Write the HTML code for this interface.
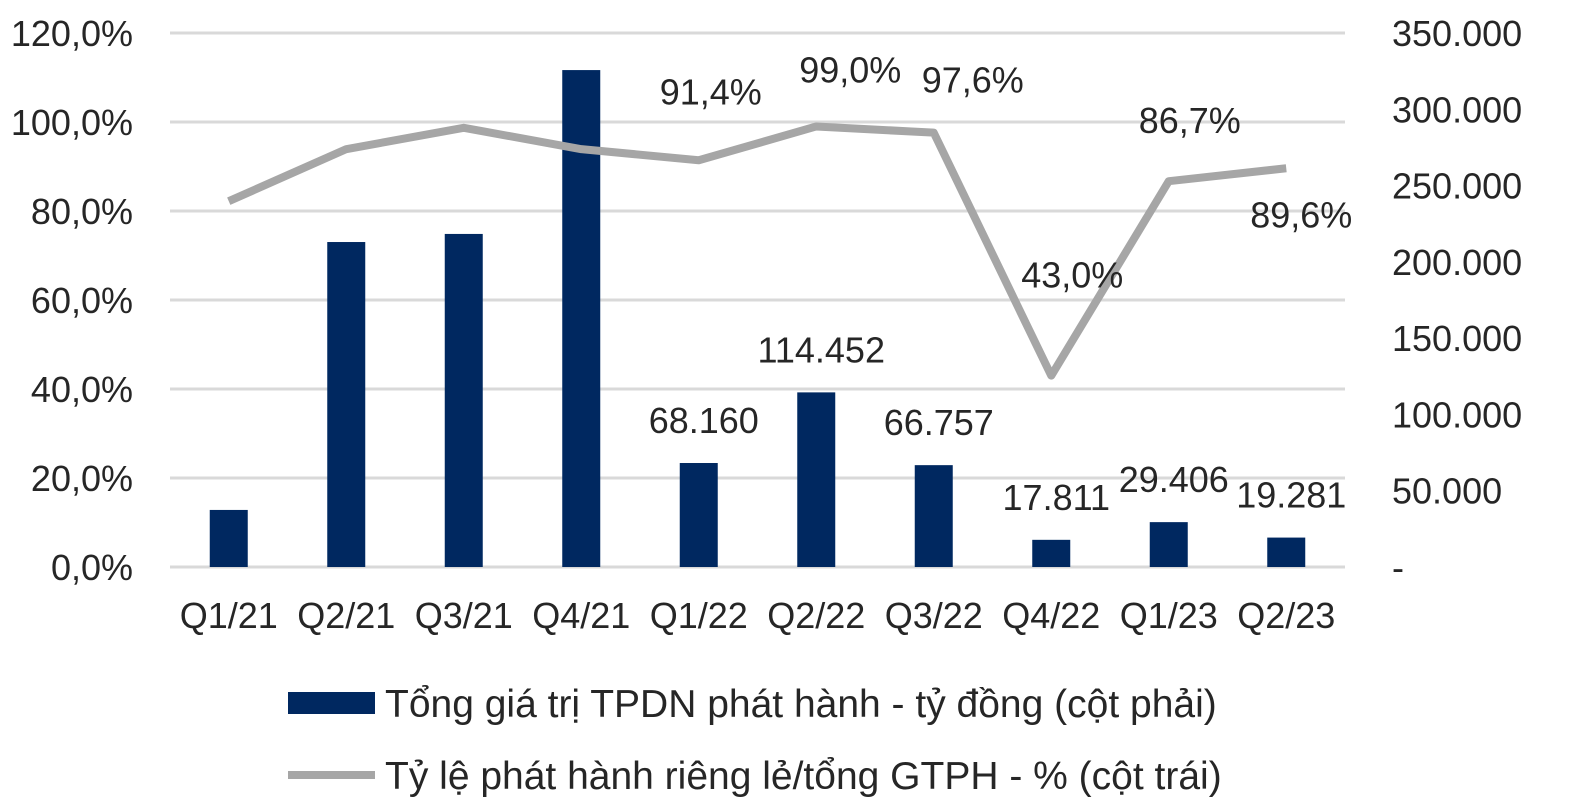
<!DOCTYPE html>
<html><head><meta charset="utf-8"><style>
body{margin:0;background:#fff;}
svg{display:block;font-family:"Liberation Sans",sans-serif;}
</style></head><body>
<svg id="c" width="1574" height="808"></svg>
<script>
const categories=["Q1/21","Q2/21","Q3/21","Q4/21","Q1/22","Q2/22","Q3/22","Q4/22","Q1/23","Q2/23"];
const barValues=[37400,213000,218300,325700,68160,114452,66757,17811,29406,19281];
const barLabels=["","","","","68.160","114.452","66.757","17.811","29.406","19.281"];
const lineValues=[82.2,93.9,98.7,93.9,91.4,99.0,97.6,43.0,86.7,89.6];
const lineLabels=["","","","","91,4%","99,0%","97,6%","43,0%","86,7%","89,6%"];
const leftTicks=["0,0%","20,0%","40,0%","60,0%","80,0%","100,0%","120,0%"];
const rightTicks=["-","50.000","100.000","150.000","200.000","250.000","300.000","350.000"];
const NS="http://www.w3.org/2000/svg";
const svg=document.getElementById('c');
const x0=170,x1=1345,y0=567,yTop=33;
const step=(x1-x0)/categories.length;
const xC=i=>x0+step*(i+0.5);
const yL=v=>y0-(v/120)*(y0-yTop);
const yR=v=>y0-(v/350000)*(y0-yTop);
const lblDy=[0,0,0,0,-56,-44,-40,-88,-48,59];
const lblDx=[0,0,0,0,12,34,39,21,21,15];
function mk(t,a,txt){const e=document.createElementNS(NS,t);for(const k in a)e.setAttribute(k,a[k]);if(txt!==undefined)e.textContent=txt;svg.appendChild(e);return e;}
leftTicks.forEach((t,i)=>{const y=y0-i*(y0-yTop)/6;
 const g=mk('line',{x1:x0,x2:x1,y1:y,y2:y,stroke:'#d9d9d9','stroke-width':3});
 
 
 const l=mk('text',{x:133,y:y+13,'text-anchor':'end','font-size':36,fill:'#262626'},t);
 
 
});
rightTicks.forEach((t,i)=>{const y=y0-i*(y0-yTop)/7;
 const l=mk('text',{x:1392,y:y+13,'font-size':36,fill:'#262626'},t);
 
 
});
categories.forEach((c,i)=>{
 const b=mk('rect',{x:xC(i)-19,y:yR(barValues[i]),width:38,height:y0-yR(barValues[i]),fill:'#002860'});
 
 
 const l=mk('text',{x:xC(i),y:628,'text-anchor':'middle','font-size':36,fill:'#262626'},c);
 
 
 if(barLabels[i]){const v=mk('text',{x:xC(i)+5,y:yR(barValues[i])-30,'text-anchor':'middle','font-size':36,fill:'#262626'},barLabels[i]);
 
 }
});
const pts=lineValues.map((v,i)=>xC(i)+','+yL(v)).join(' ');
const pl=mk('polyline',{points:pts,fill:'none',stroke:'#a6a6a6','stroke-width':8,'stroke-linejoin':'round'});


lineValues.forEach((v,i)=>{if(!lineLabels[i])return;
 const t=mk('text',{x:xC(i)+lblDx[i],y:yL(v)+lblDy[i],'text-anchor':'middle','font-size':36,fill:'#262626'},lineLabels[i]);
 
 
});
const s1=mk('rect',{x:288,y:692,width:87,height:22,fill:'#002860'});


const t1=mk('text',{x:385,y:717,'font-size':39,fill:'#262626'},'Tổng giá trị TPDN phát hành - tỷ đồng (cột phải)');


const s2=mk('line',{x1:288,x2:375,y1:775,y2:775,stroke:'#a6a6a6','stroke-width':8});


const t2=mk('text',{x:385,y:789,'font-size':39,fill:'#262626'},'Tỷ lệ phát hành riêng lẻ/tổng GTPH - % (cột trái)');


</script>
</body></html>
